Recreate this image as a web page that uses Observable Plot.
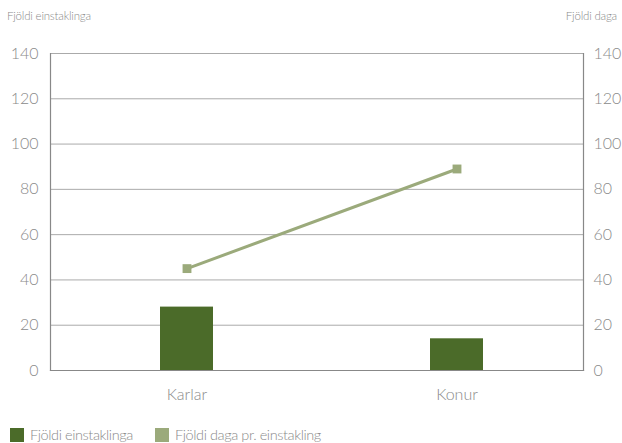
<!DOCTYPE html>
<html><head><meta charset="utf-8">
<script src="https://cdn.jsdelivr.net/npm/d3@7"></script>
<script src="https://cdn.jsdelivr.net/npm/@observablehq/plot@0.6"></script>
<style>
body{margin:0;background:#fff;font-family:Lato,"Open Sans",sans-serif;font-weight:300;color:#8a8a8a;width:622px;height:443px;overflow:hidden;position:relative}
#hdr{position:relative;height:30px;font-size:11.5px;letter-spacing:-0.2px}
#hdr .l{position:absolute;left:7px;top:9px}
#hdr .r{position:absolute;right:5px;top:9px}
#leg{position:absolute;left:10px;top:427px;height:16px;width:600px;font-size:14.5px;letter-spacing:-0.4px}
#leg .sw{width:14px;height:14px;display:inline-block;margin-right:6px}
#leg .it{display:flex;align-items:center;position:absolute;top:0;height:16px;line-height:16px;white-space:nowrap}
svg{display:block}
</style></head>
<body>
<div id="hdr"><span class="l">Fjöldi einstaklinga</span><span class="r">Fjöldi daga</span></div>
<div id="chart"></div>
<div id="leg"></div>
<script>
const categories = ["Karlar", "Konur"];
const individuals = [28, 14];
const daysPerIndividual = [45, 89];
const yTicks = [0, 20, 40, 60, 80, 100, 120, 140];
const seriesNames = ["Fjöldi einstaklinga", "Fjöldi daga pr. einstakling"];
const colors = ["#4b6b29", "#9baa7b"];

const data = categories.map((c, i) => ({cat: c, n: individuals[i], d: daysPerIndividual[i]}));

const plot = Plot.plot({
  width: 622,
  height: 380,
  marginTop: 23,
  marginBottom: 40,
  marginLeft: 50,
  marginRight: 39,
  style: {fontFamily: "Lato, 'Open Sans', sans-serif", fontWeight: 300, fontSize: "16px", color: "#8a8a8a", background: "transparent"},
  x: {domain: categories, range: [51.3, 591.3], paddingInner: 0.804, paddingOuter: 0.402, label: null},
  y: {domain: [0, 140], label: null},
  marks: [
    Plot.ruleY(yTicks, {stroke: "#aaa", strokeWidth: 1}),
    Plot.barY(data, {x: "cat", y: "n", fill: colors[0]}),
    Plot.line(data, {x: "cat", y: "d", stroke: colors[1], strokeWidth: 3}),
    Plot.dot(data, {x: "cat", y: "d", symbol: "square", r: 5, fill: colors[1], stroke: "none"}),
    Plot.frame({stroke: "#888", strokeWidth: 1.2, anchor: "left"}),
    Plot.frame({stroke: "#888", strokeWidth: 1.2, anchor: "right"}),
    Plot.frame({stroke: "#888", strokeWidth: 1.2, anchor: "bottom"}),
    Plot.axisY({ticks: yTicks, anchor: "left", tickSize: 0, tickPadding: 12, label: null, fill: "#8a8a8a"}),
    Plot.axisY({ticks: yTicks, anchor: "right", tickSize: 0, tickPadding: 10, label: null, fill: "#8a8a8a"}),
    Plot.axisX({tickSize: 0, tickPadding: 18, label: null, fill: "#8a8a8a"})
  ]
});
document.getElementById("chart").appendChild(plot);

const leg = document.getElementById("leg");
const legLeft = [0, 145];
seriesNames.forEach((s, i) => {
  const it = document.createElement("span");
  it.className = "it";
  it.style.left = legLeft[i] + "px";
  it.innerHTML = `<span class="sw" style="background:${colors[i]}"></span>${s}`;
  leg.appendChild(it);
});
</script>
</body></html>
